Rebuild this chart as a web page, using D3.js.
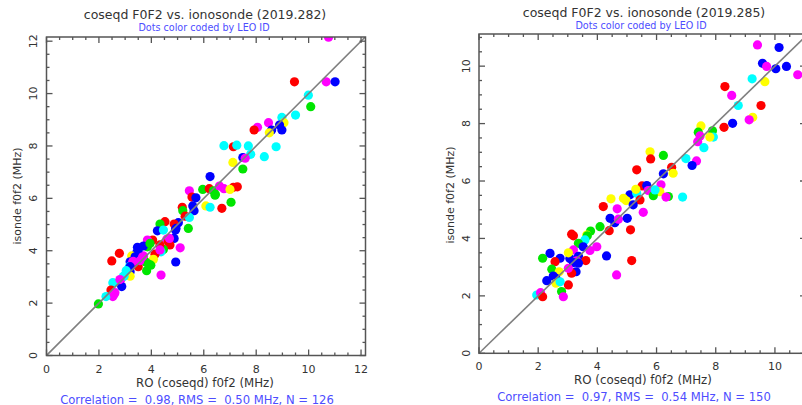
<!DOCTYPE html>
<html><head><meta charset="utf-8">
<script src="https://cdn.jsdelivr.net/npm/d3@7"></script>
<style>body{margin:0;background:#fff}svg{display:block}text{font-family:"DejaVu Sans",sans-serif;white-space:pre}</style>
</head><body>
<svg id="c" width="802" height="405"></svg>
<script>
// LEO colour codes
const leoColors = {r:"#ff0000", g:"#00e600", b:"#0000ff", c:"#00ffff", m:"#ff00ff", y:"#ffff00"};

// ---- Left panel (2019.282) ----
const leftTitle = "coseqd F0F2 vs. ionosonde (2019.282)";
const leftStats = "Correlation =  0.98, RMS =  0.50 MHz, N = 126";
const leftRO = [10.76,9.46,10.67,11.01,9.99,10.08,9.50,8.98,9.06,8.47,8.89,8.59,8.98,8.50,8.05,7.92,6.77,7.13,7.26,7.70,8.76,7.79,8.31,7.49,7.58,7.11,7.49,6.24,5.45,5.96,6.21,6.37,6.44,6.60,6.77,7.13,7.28,7.00,5.55,5.70,6.43,7.04,6.08,6.24,6.69,5.58,5.63,5.18,5.20,5.29,5.45,5.41,5.03,4.87,4.94,4.87,5.10,4.93,4.52,4.33,4.23,4.46,4.59,4.65,4.71,4.46,4.37,4.05,4.14,3.85,3.85,3.47,3.70,3.44,3.70,3.25,2.78,2.49,3.19,3.29,3.42,3.50,4.08,3.79,3.98,3.82,4.37,3.16,3.19,3.19,2.96,2.83,2.87,2.53,2.46,2.61,2.53,2.27,1.98,3.95,3.50,4.33,4.33,3.38,3.67,3.31,3.57,3.89,3.19,3.04,2.93,2.80,2.58,4.92,4.69];
const leftIsonde = [12.15,10.45,10.45,10.45,9.94,9.50,9.18,9.09,8.89,8.89,8.80,8.61,8.61,8.50,8.71,8.61,8.01,7.97,8.03,8.00,7.97,7.68,7.59,7.56,7.53,7.37,7.12,6.83,6.29,6.34,6.37,6.29,6.16,6.47,6.37,6.42,6.44,6.34,6.05,6.02,6.12,5.85,5.71,5.66,5.62,5.71,5.53,5.66,5.53,5.32,5.27,4.85,5.07,5.02,4.85,4.47,4.11,3.57,5.11,5.02,4.76,4.79,4.44,4.34,4.22,4.05,3.96,4.41,3.87,4.41,4.15,4.13,4.18,3.92,3.80,3.80,3.90,3.61,3.58,3.58,3.52,3.39,3.67,3.57,3.45,3.24,3.07,3.39,3.20,3.03,3.03,2.88,2.63,2.78,2.50,2.40,2.25,2.25,1.97,4.28,4.03,4.22,4.03,3.77,3.77,3.59,3.62,3.49,3.39,3.24,3.02,2.90,2.34,4.79,4.47];
const leftLeo = ["m","r","m","b","c","g","c","c","y","m","b","b","b","y","m","r","c","r","c","c","c","c","c","b","m","y","g","b","m","g","r","g","g","m","m","r","r","y","r","b","g","g","y","c","r","b","b","r","g","r","c","g","b","r","b","b","m","b","r","g","b","c","m","r","r","g","c","r","r","m","g","b","b","b","m","y","r","r","b","m","m","r","y","g","g","g","m","c","b","y","c","m","b","c","r","m","m","c","g","g","b","r","m","b","m","m","m","g","b","c","c","m","m","b","m"];

// ---- Right panel (2019.285) ----
const rightTitle = "coseqd F0F2 vs. ionosonde (2019.285)";
const rightStats = "Correlation =  0.97, RMS =  0.54 MHz, N = 150";
const rightRO = [9.41,10.14,9.58,9.72,10.03,10.39,10.77,9.23,9.66,8.31,8.54,8.76,9.53,9.25,9.13,8.57,8.28,7.50,7.41,7.89,7.92,7.47,7.39,7.60,7.35,6.99,7.20,5.78,5.80,6.23,5.33,6.51,6.56,6.23,5.51,5.67,5.72,6.15,6.11,5.89,6.40,6.32,6.88,5.10,5.33,4.46,7.80,5.95,5.44,5.30,4.97,5.21,4.20,4.67,5.55,4.43,4.59,4.71,5.01,5.12,4.40,4.09,3.77,3.64,3.66,3.58,3.13,3.19,3.36,3.98,3.52,3.75,3.19,3.07,3.36,3.30,3.61,4.31,5.16,4.65,2.40,2.15,2.74,2.57,2.46,2.71,2.51,2.29,2.60,2.60,3.02,2.79,2.85,1.95,2.08,2.15,3.19,3.36,3.28,3.13,3.02,3.02,2.74,4.88];
const rightIsonde = [10.74,10.65,10.10,9.99,9.91,9.99,9.70,9.56,9.46,9.29,8.98,8.63,8.63,8.22,8.13,8.01,7.87,7.92,7.70,7.75,7.53,7.57,7.37,7.16,6.70,6.78,6.54,7.02,6.77,6.89,6.39,6.48,6.27,6.25,5.83,5.84,5.67,5.87,5.63,5.49,5.46,5.44,5.44,5.52,5.57,5.38,7.53,5.69,5.34,5.71,5.32,5.17,5.11,5.03,4.91,4.70,4.55,4.67,4.70,4.30,4.27,4.41,4.26,4.12,4.09,3.95,4.15,4.09,3.83,3.71,3.71,3.58,3.60,3.30,3.38,3.22,3.23,3.39,3.23,2.73,3.48,3.31,3.31,3.19,2.93,2.84,2.69,2.53,2.61,2.44,2.38,2.15,1.97,2.03,2.11,1.97,3.16,3.14,2.84,2.79,2.96,3.50,2.49,5.40];
const rightLeo = ["m","b","b","m","b","b","m","c","y","r","m","c","r","y","m","b","r","y","g","g","c","m","m","c","m","c","b","y","r","g","r","r","y","b","r","b","m","m","y","g","g","m","c","b","c","y","y","c","r","y","y","b","r","m","m","b","b","m","b","r","r","g","g","y","g","c","r","r","g","m","b","m","m","b","b","m","r","b","r","m","b","g","b","r","g","y","b","b","b","y","r","g","m","c","m","r","b","b","b","r","m","y","c","y"];

const xTickLabels = [0,2,4,6,8,10,12];
const yTickLabels = [0,2,4,6,8,10,12];
const xLabel = "RO (coseqd) f0f2 (MHz)";
const yLabel = "isonde f0f2 (MHz)";
const subTitle = "Dots color coded by LEO ID";

const svg = d3.select("#c");

function panel(cfg){
  const g = svg.append("g");
  const x = d3.scaleLinear().domain([0,cfg.xmax]).range([cfg.left,cfg.right]);
  const y = d3.scaleLinear().domain([0,cfg.ymax]).range([cfg.bottom,cfg.top]);
  const id = "clip"+cfg.key;
  svg.append("clipPath").attr("id",id).append("rect")
    .attr("x",cfg.left).attr("y",cfg.top).attr("width",cfg.right-cfg.left).attr("height",cfg.bottom-cfg.top);

  const data = cfg.ro.map((v,i)=>({x:v,y:cfg.iso[i],c:cfg.leo[i]}));
  g.append("g").attr("clip-path",`url(#${id})`).selectAll("circle").data(data).join("circle")
    .attr("cx",d=>x(d.x)).attr("cy",d=>y(d.y)).attr("r",4.6)
    .attr("fill",d=>leoColors[d.c]);

  const m = Math.min(cfg.xmax,cfg.ymax);
  g.append("line").attr("clip-path",`url(#${id})`)
    .attr("x1",x(0)).attr("y1",y(0)).attr("x2",x(m)).attr("y2",y(m))
    .attr("stroke","#7f7f7f").attr("stroke-width",1.6);

  // ticks
  const minorX = d3.range(0,cfg.xmax+0.001,0.5), minorY = d3.range(0,cfg.ymax+0.001,0.5);
  const tk = g.append("g").attr("stroke","#555").attr("stroke-width",1.3);
  minorX.forEach(v=>{
    const L = (Math.abs(v%2)<1e-6)?6:3;
    tk.append("line").attr("x1",x(v)).attr("x2",x(v)).attr("y1",cfg.bottom).attr("y2",cfg.bottom-L);
    tk.append("line").attr("x1",x(v)).attr("x2",x(v)).attr("y1",cfg.top).attr("y2",cfg.top+L);
  });
  minorY.forEach(v=>{
    const L = (Math.abs(v%2)<1e-6)?6:3;
    tk.append("line").attr("y1",y(v)).attr("y2",y(v)).attr("x1",cfg.left).attr("x2",cfg.left+L);
    tk.append("line").attr("y1",y(v)).attr("y2",y(v)).attr("x1",cfg.right).attr("x2",cfg.right-L);
  });
  g.append("rect").attr("x",cfg.left).attr("y",cfg.top).attr("width",cfg.right-cfg.left).attr("height",cfg.bottom-cfg.top)
    .attr("fill","none").attr("stroke","#555").attr("stroke-width",1.5);

  // tick labels
  g.selectAll(".xt").data(xTickLabels.filter(v=>v<=cfg.xmax)).join("text")
    .attr("x",d=>x(d)).attr("y",cfg.bottom+17).attr("text-anchor","middle")
    .attr("font-size",11).attr("fill","#333").text(d=>d);
  g.selectAll(".yt").data(yTickLabels.filter(v=>v<=cfg.ymax)).join("text")
    .attr("transform",d=>`translate(${cfg.left-13},${y(d)}) rotate(-90)`)
    .attr("text-anchor","middle").attr("dy","0.35em")
    .attr("font-size",11).attr("fill","#333").text(d=>d);

  // labels
  g.append("text").attr("x",cfg.titleX).attr("y",cfg.titleY).attr("text-anchor","middle")
    .attr("font-size",12.5).attr("fill","#333").text(cfg.title);
  g.append("text").attr("x",cfg.subX).attr("y",cfg.titleY+11.5).attr("text-anchor","middle")
    .attr("font-size",9.6).attr("fill","#4d4dff").text(subTitle);
  g.append("text").attr("x",cfg.xlabX).attr("y",cfg.bottom+31).attr("text-anchor","middle")
    .attr("font-size",11.8).attr("fill","#333").text(xLabel);
  g.append("text").attr("transform",`translate(${cfg.ylabX},${cfg.ylabY}) rotate(-90)`)
    .attr("text-anchor","middle").attr("dy","0.35em")
    .attr("font-size",11).attr("fill","#333").text(yLabel);
  g.append("text").attr("x",cfg.statX).attr("y",cfg.bottom+48).attr("text-anchor","middle")
    .attr("font-size",11.6).attr("fill","#4d4dff").text(cfg.stats);
}

panel({key:"L",left:46.5,right:365.5,top:37,bottom:355.5,xmax:12.17,ymax:12.16,
  ro:leftRO,iso:leftIsonde,leo:leftLeo,title:leftTitle,stats:leftStats,
  titleX:205,titleY:19,subX:204,xlabX:205,ylabX:17,ylabY:196,statX:197});
panel({key:"R",left:479,right:806,top:34,bottom:353.3,xmax:11.05,ymax:11.12,
  ro:rightRO,iso:rightIsonde,leo:rightLeo,title:rightTitle,stats:rightStats,
  titleX:644,titleY:17,subX:641,xlabX:643,ylabX:450,ylabY:195,statX:634});
</script>
</body></html>
